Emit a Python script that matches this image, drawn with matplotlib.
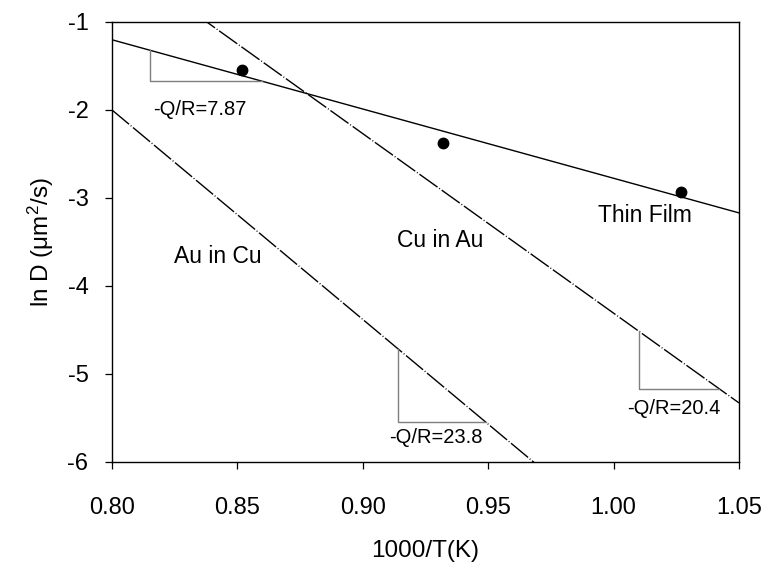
import numpy as np
import matplotlib
matplotlib.use("Agg")
import matplotlib.pyplot as plt

plt.rcParams['font.family'] = ['Liberation Sans', 'DejaVu Sans']
plt.rcParams['axes.unicode_minus'] = False

# Thin-film diffusion data
film_x = [0.852, 0.932, 1.027]
film_y = [-1.54, -2.37, -2.93]

# Slopes (-Q/R, in units of 1000 K) of the three Arrhenius lines
slope_film = 7.87
slope_cu_in_au = 20.4
slope_au_in_cu = 23.8

# A point each line passes through
cu_in_au_ref = (0.878, -1.82)
au_in_cu_ref = (0.800, -2.00)

# x-ranges of the slope triangles
tri_film = (0.815, 0.860)
tri_au_in_cu = (0.914, 0.949)
tri_cu_in_au = (1.010, 1.042)

x_ticks = [0.80, 0.85, 0.90, 0.95, 1.00, 1.05]
x_tick_labels = ['0.80', '0.85', '0.90', '0.95', '1.00', '1.05']
y_ticks = [-6, -5, -4, -3, -2, -1]

fig = plt.figure(figsize=(7.71, 5.70), dpi=100)
ax = fig.add_axes([112 / 771, 1 - 462 / 570, 627 / 771, 440 / 570])

xs = np.linspace(0.80, 1.05, 200)

# Thin film: line of slope -7.87 through the centroid of the data
cx, cy = np.mean(film_x), np.mean(film_y)
film_line = lambda x: cy - slope_film * (np.asarray(x) - cx)
cu_line = lambda x: cu_in_au_ref[1] - slope_cu_in_au * (np.asarray(x) - cu_in_au_ref[0])
au_line = lambda x: au_in_cu_ref[1] - slope_au_in_cu * (np.asarray(x) - au_in_cu_ref[0])

dash = (0, (16, 1.5, 0.7, 1.5))
ax.plot(xs, film_line(xs), color='black', lw=1.0)
ax.plot(xs, cu_line(xs), color='black', lw=1.0, linestyle=dash)
ax.plot(xs, au_line(xs), color='black', lw=1.0, linestyle=dash)
ax.plot(film_x, film_y, 'o', color='black', markersize=7.5)

# Slope triangles
tri_color = '#7f7f7f'
for (x0, x1), f in [(tri_film, film_line), (tri_au_in_cu, au_line), (tri_cu_in_au, cu_line)]:
    ax.plot([x0, x0, x1], [f(x0), f(x1), f(x1)], color=tri_color, lw=1.0)

ax.text(0.835, -2.00, '-Q/R=7.87', fontsize=14.5, ha='center', va='center')
ax.text(0.929, -5.72, '-Q/R=23.8', fontsize=14.5, ha='center', va='center')
ax.text(1.024, -5.39, '-Q/R=20.4', fontsize=14.5, ha='center', va='center')

ax.text(1.0125, -3.20, 'Thin Film', fontsize=16.5, ha='center', va='center')
ax.text(0.931, -3.48, 'Cu in Au', fontsize=16.5, ha='center', va='center')
ax.text(0.842, -3.66, 'Au in Cu', fontsize=16.5, ha='center', va='center')

ax.set_xlim(0.80, 1.05)
ax.set_ylim(-6, -1)
ax.set_xticks(x_ticks)
ax.set_xticklabels(x_tick_labels)
ax.set_yticks(y_ticks)
ax.tick_params(direction='out', length=5, width=0.9, labelsize=17)
ax.tick_params(axis='x', pad=20)
ax.tick_params(axis='y', pad=12)
for s in ax.spines.values():
    s.set_linewidth(1.0)

ax.set_xlabel('1000/T(K)', fontsize=17.5, labelpad=15)
ax.set_ylabel(r'ln D ($\mathregular{\mu m^2/s}$)', fontsize=17.5, labelpad=8)

fig.savefig('out.png', dpi=100)
